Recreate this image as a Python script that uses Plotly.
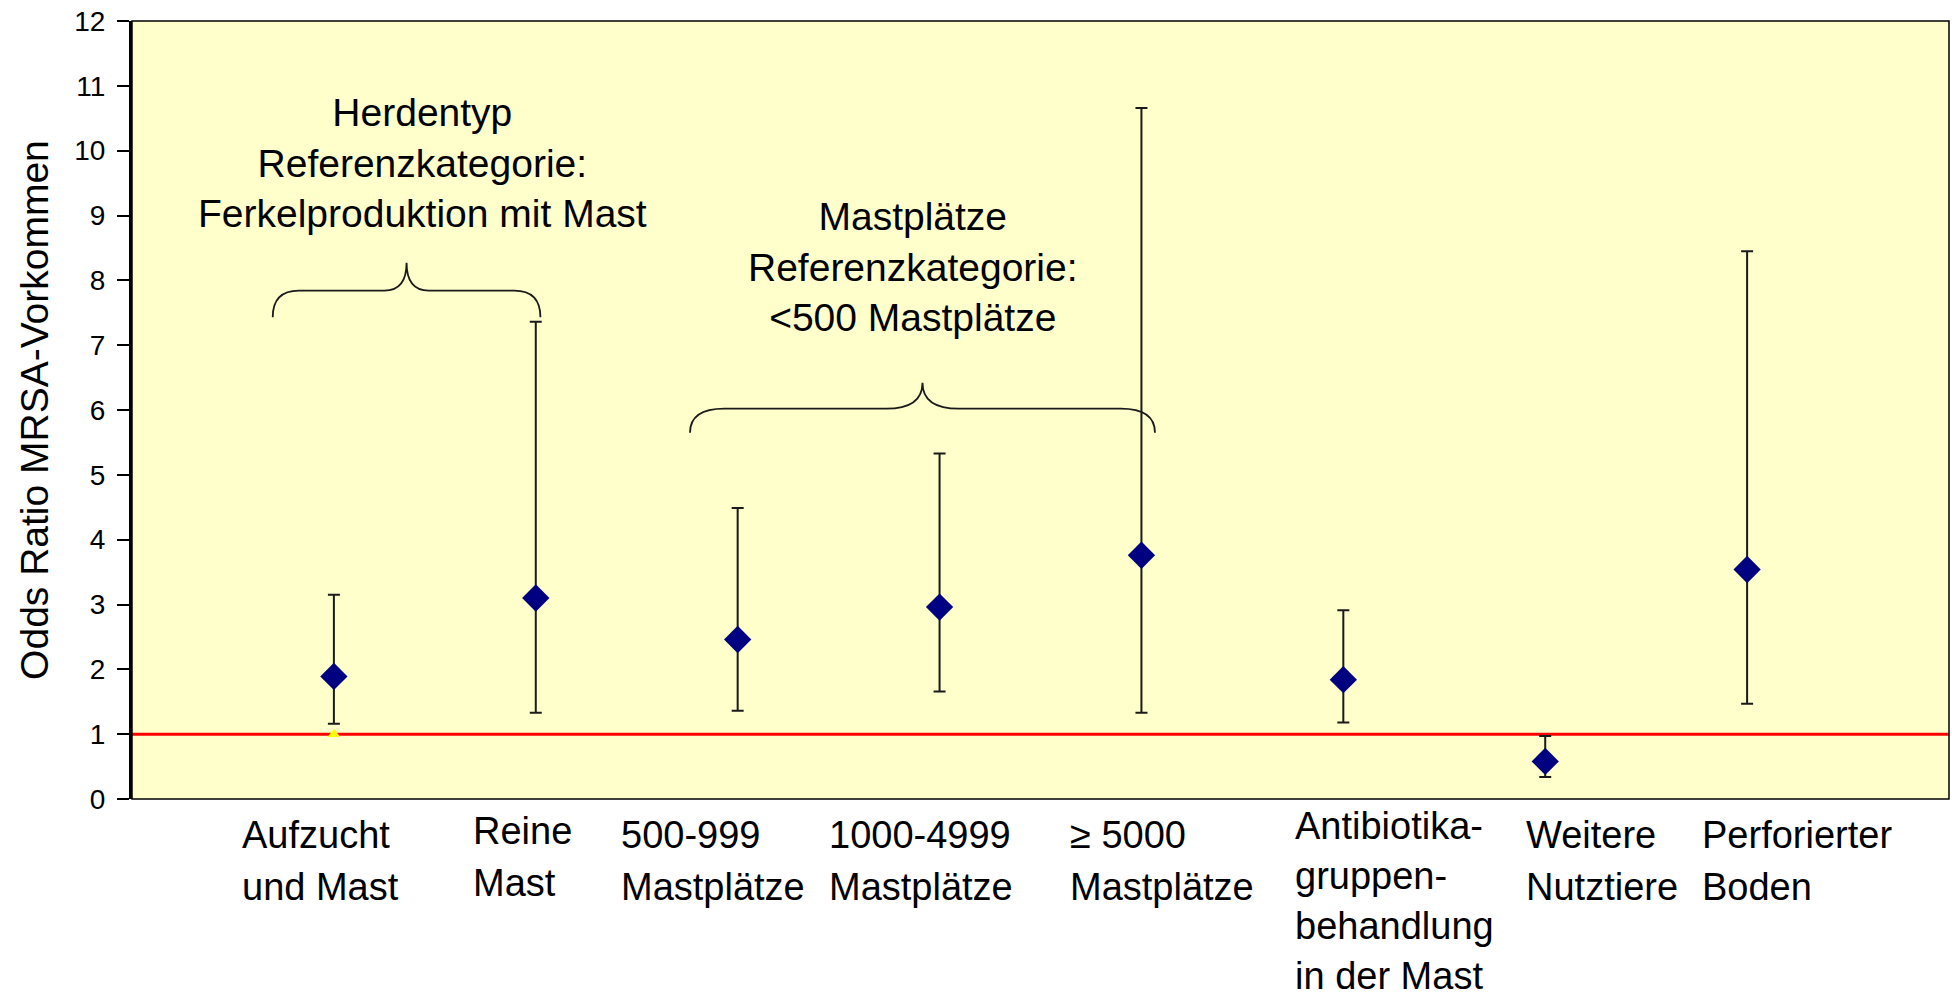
import plotly.graph_objects as go

# ---- data ----
categories = [
    "Aufzucht<br>und Mast",
    "Reine<br>Mast",
    "500-999<br>Mastplätze",
    "1000-4999<br>Mastplätze",
    "≥ 5000<br>Mastplätze",
    "Antibiotika-<br>gruppen-<br>behandlung<br>in der Mast",
    "Weitere<br>Nutztiere",
    "Perforierter<br>Boden",
]
odds_ratio = [1.89, 3.10, 2.46, 2.96, 3.76, 1.84, 0.58, 3.54]
ci_upper = [3.15, 7.36, 4.49, 5.33, 10.66, 2.91, 0.97, 8.45]
ci_lower = [1.16, 1.33, 1.36, 1.66, 1.33, 1.18, 0.34, 1.47]
reference_value = 1.0
y_ticks = list(range(0, 13))

group_notes = [
    "Herdentyp<br>Referenzkategorie:<br>Ferkelproduktion mit Mast",
    "Mastplätze<br>Referenzkategorie:<br><500 Mastplätze",
]

# ---- layout helpers (positions, not data) ----
xpos = [i + 1 for i in range(len(categories))]
label_left = [0.535, 1.679, 2.412, 3.442, 4.636, 5.750, 6.894, 7.766]
label_dy = [0, -4, 0, 0, 0, -9, 0, 0]
label_step = [52, 52, 52, 52, 52, 50, 52, 52]
FONT = "Liberation Sans, Arial, Helvetica, sans-serif"

fig = go.Figure()

# reference line at OR = 1
fig.add_shape(type="line", xref="x domain", yref="y", x0=0, x1=1,
              y0=reference_value, y1=reference_value,
              line=dict(color="#FF0000", width=3), layer="below")

fig.add_trace(go.Scatter(
    x=xpos, y=odds_ratio, mode="markers",
    marker=dict(symbol="diamond", size=21, color="#000080"),
    error_y=dict(type="data", symmetric=False,
                 array=[u - v for u, v in zip(ci_upper, odds_ratio)],
                 arrayminus=[v - l for v, l in zip(odds_ratio, ci_lower)],
                 color="#1a1a1a", thickness=2, width=6),
    showlegend=False, hoverinfo="skip",
))

# small yellow reference marker on the OR=1 line
fig.add_trace(go.Scatter(
    x=[xpos[0]], y=[reference_value], mode="markers",
    marker=dict(symbol="triangle-up", size=11, color="#FFFF00"),
    showlegend=False, hoverinfo="skip",
))


def brace(x0, x1, y_end, y_bar, y_tip, rx, rt):
    xm = (x0 + x1) / 2
    return (f"M {x0},{y_end} Q {x0},{y_bar} {x0 + rx},{y_bar} "
            f"L {xm - rt},{y_bar} Q {xm},{y_bar} {xm},{y_tip} "
            f"Q {xm},{y_bar} {xm + rt},{y_bar} "
            f"L {x1 - rx},{y_bar} Q {x1},{y_bar} {x1},{y_end}")


fig.add_shape(type="path", xref="x", yref="y",
              path=brace(0.697, 2.023, 7.43, 7.84, 8.27, 0.13, 0.11),
              line=dict(color="#1a1a1a", width=1.8))
fig.add_shape(type="path", xref="x", yref="y",
              path=brace(2.764, 5.067, 5.65, 6.02, 6.42, 0.17, 0.18),
              line=dict(color="#1a1a1a", width=1.8))

# plot border
fig.add_shape(type="rect", xref="x domain", yref="y domain", x0=0, x1=1, y0=0, y1=1,
              line=dict(color="black", width=1.5))

annotations = []
for note, (ax, ay) in zip(group_notes, [(1.441, 9.81), (3.868, 8.21)]):
    annotations.append(dict(text=note, x=ax, y=ay, xref="x", yref="y",
                            showarrow=False, align="center",
                            font=dict(family=FONT, size=39, color="black")))

for lab, lx, dy, step in zip(categories, label_left, label_dy, label_step):
    for k, line in enumerate(lab.split("<br>")):
        annotations.append(dict(text=line, x=lx, y=0, xref="x", yref="paper",
                                xanchor="left", yanchor="top", align="left",
                                yshift=-13 - dy - k * step, showarrow=False,
                                font=dict(family=FONT, size=38, color="black")))

annotations.append(dict(text="Odds Ratio MRSA-Vorkommen", textangle=-90,
                        x=-0.054, y=0.5, xref="paper", yref="paper",
                        xanchor="center", yanchor="middle", showarrow=False,
                        font=dict(family=FONT, size=39, color="black")))

fig.update_layout(
    width=1952, height=993,
    margin=dict(l=132, r=3, t=21, b=194),
    paper_bgcolor="white", plot_bgcolor="#FFFFCC",
    annotations=annotations,
    font=dict(family=FONT, color="black"),
)
fig.update_xaxes(range=[0, 9], showticklabels=False, ticks="", showgrid=False,
                 zeroline=False, showline=False)
fig.update_yaxes(range=[0, 12], tickvals=y_ticks, ticks="outside", ticklen=12,
                 tickwidth=2, tickcolor="black", showgrid=False, zeroline=False,
                 showline=True, linewidth=3, linecolor="black",
                 tickfont=dict(family=FONT, size=28, color="black"),
                 ticklabelstandoff=6)

fig.write_html("out.html",
               config={"displayModeBar": False},
               post_script="document.body.style.margin='0';"
                           "document.body.style.overflow='hidden';")
